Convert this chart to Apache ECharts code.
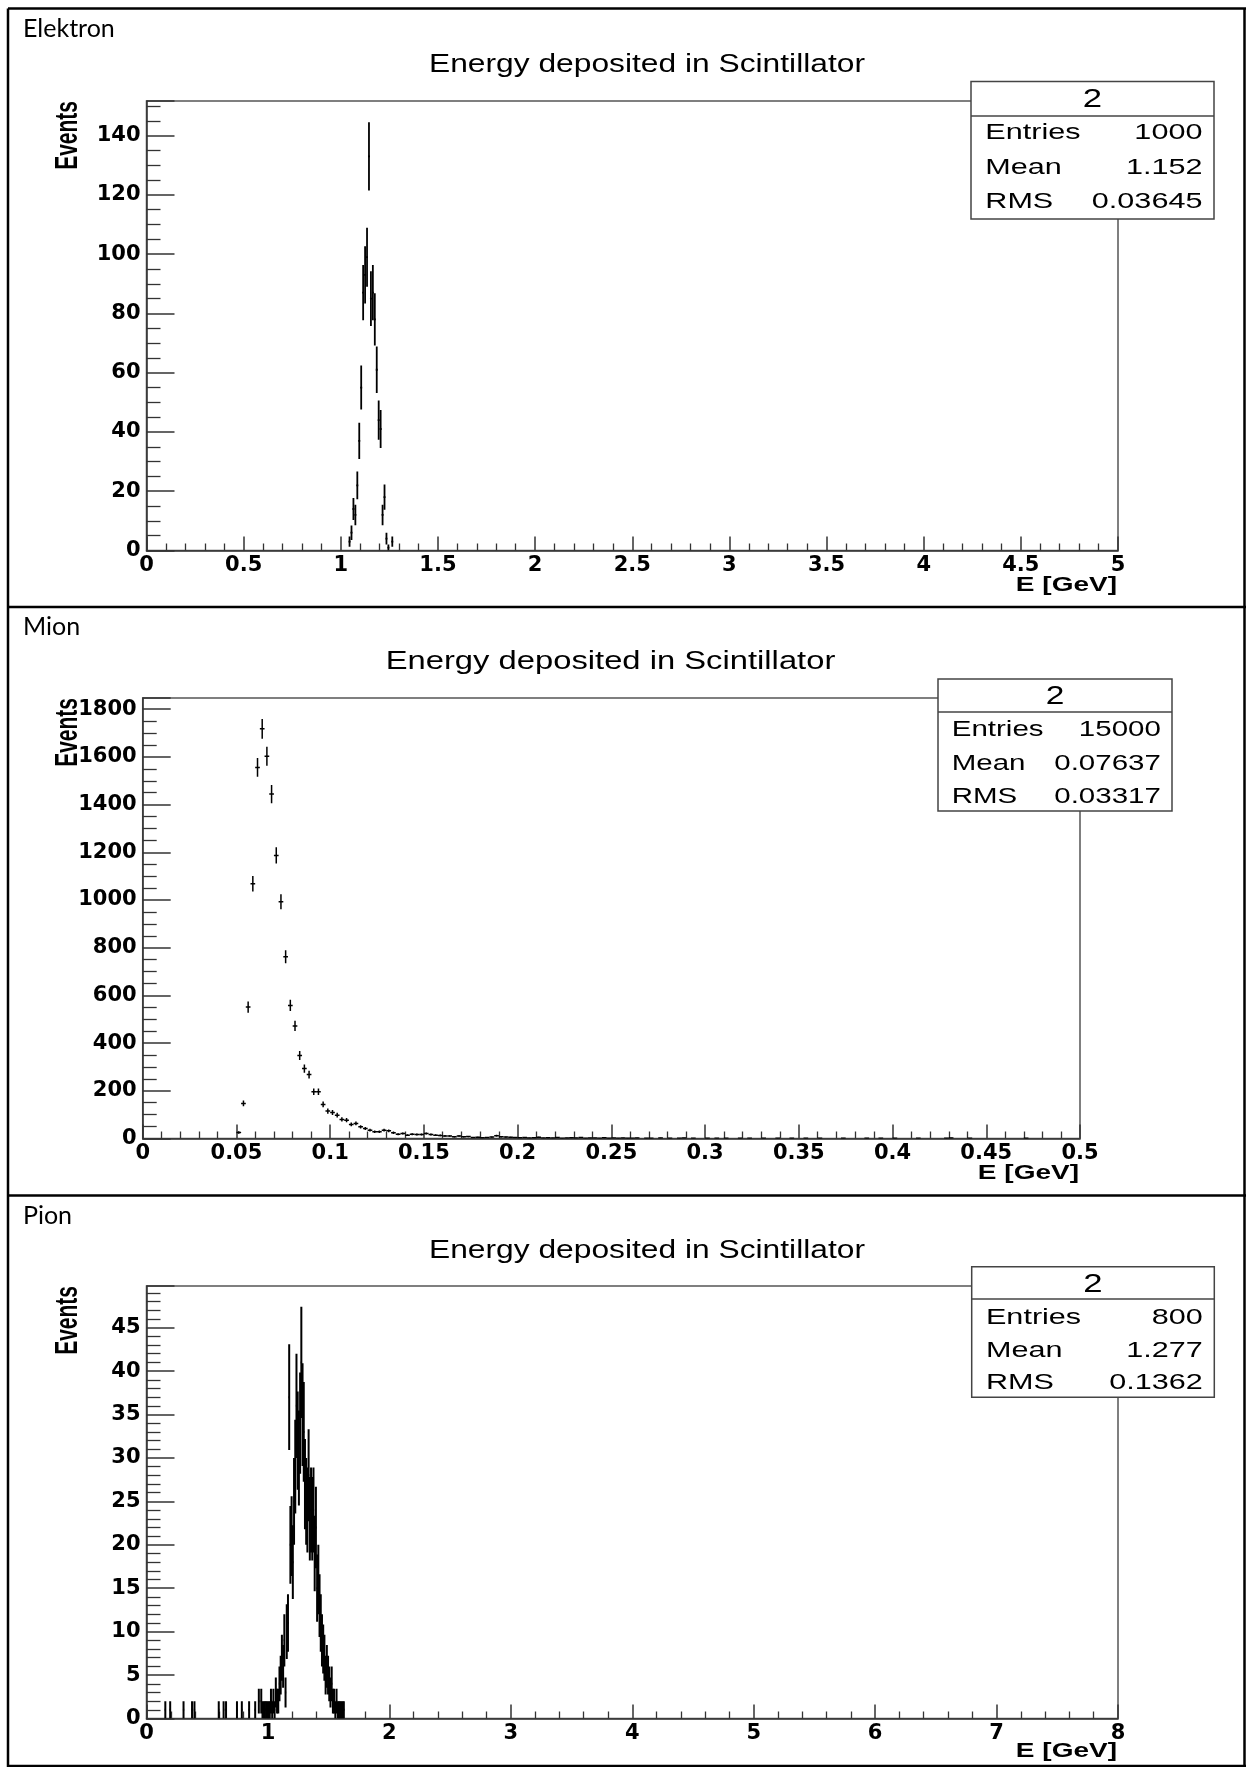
<!DOCTYPE html>
<html><head><meta charset="utf-8">
<script src="https://cdn.jsdelivr.net/npm/echarts@6/dist/echarts.min.js"></script>
<style>html,body{margin:0;padding:0;background:#fff}#c{width:1246px;height:1767px}</style>
</head><body><div id="c"></div>
<script>
// ---------- texts ----------
const panelLabels = ['Elektron', 'Mion', 'Pion'];
const plotTitle = 'Energy deposited in Scintillator';
const xAxisTitle = 'E [GeV]';
const yAxisTitle = 'Events';
const statsName = '2';
const statsRowNames = ['Entries', 'Mean', 'RMS'];
const statsEntries = ['1000', '15000', '800'];
const statsMean = ['1.152', '0.07637', '1.277'];
const statsRMS = ['0.03645', '0.03317', '0.1362'];

// ---------- axes ----------
const xMax = [5, 0.5, 8];
const xInterval = [0.5, 0.05, 1];
const yMax = [151.7, 1847, 49.8];
const yInterval = [20, 200, 5];
const yMinorSplit = [4, 4, 5];

// ---------- data: Elektron ----------
const elektronBinWidth = 0.01;
const elektronE = [1.045, 1.055, 1.065, 1.075, 1.085, 1.095, 1.105, 1.115, 1.125, 1.135, 1.145,
  1.155, 1.165, 1.175, 1.185, 1.195, 1.205, 1.215, 1.225, 1.235, 1.245, 1.265];
const elektronCounts = [3, 6, 14, 12, 22, 37, 55, 87, 93, 99, 133,
  85, 87, 78, 61, 44, 41, 12, 18, 4, 1, 3];

// ---------- data: Mion ----------
const mionBinWidth = 0.0025;
const mionE = [0.05125, 0.05375, 0.05625, 0.05875, 0.06125, 0.06375, 0.06625, 0.06875, 0.07125, 0.07375,
  0.07625, 0.07875, 0.08125, 0.08375, 0.08625, 0.08875, 0.09125, 0.09375, 0.09625, 0.09875,
  0.10125, 0.10375, 0.10625, 0.10875, 0.11125, 0.11375, 0.11625, 0.11875, 0.12125, 0.12375,
  0.12625, 0.12875, 0.13125, 0.13375, 0.13625, 0.13875, 0.14125, 0.14375, 0.14625, 0.14875,
  0.15125, 0.15375, 0.15625, 0.15875, 0.16125, 0.16375, 0.16625, 0.16875, 0.17125, 0.17375,
  0.17625, 0.17875, 0.18125, 0.18375, 0.18625, 0.18875, 0.19125, 0.19375, 0.19625, 0.19875,
  0.20125, 0.20375, 0.20625, 0.20875, 0.21125, 0.21375, 0.21625, 0.21875, 0.22125, 0.22375,
  0.22625, 0.22875, 0.23125, 0.23375, 0.23625, 0.23875, 0.24125, 0.24375, 0.24625, 0.24875,
  0.25125, 0.25375, 0.25625, 0.25875, 0.26125, 0.26375,
  0.26875, 0.27125, 0.27625, 0.28125, 0.28625, 0.28875, 0.29375,
  0.30125, 0.30625, 0.31125, 0.31875, 0.32375, 0.33125, 0.33875, 0.34625, 0.35375, 0.36125,
  0.37375, 0.38625, 0.39375, 0.40125, 0.41375, 0.42875, 0.43125, 0.44125, 0.47125];
const mionCounts = [25, 147, 551, 1068, 1556, 1718, 1603, 1444, 1187, 993,
  762, 558, 472, 348, 293, 268, 196, 196, 143, 115,
  109, 98, 80, 77, 59, 63, 49, 42, 35, 28,
  28, 35, 32, 24, 18, 21, 14, 18, 17, 17,
  21, 17, 14, 13, 11, 10, 7, 10, 7, 8,
  4, 5, 3, 4, 6, 12, 7, 6, 5, 4,
  3, 4, 2, 3, 5, 2, 3, 2, 4, 1,
  2, 3, 2, 4, 1, 2, 2, 1, 3, 1,
  2, 1, 2, 1, 1, 2,
  1, 1, 2, 1, 1, 2, 1,
  1, 1, 1, 1, 1, 1, 1, 1, 1, 1,
  1, 1, 1, 1, 1, 1, 2, 1, 1];

// ---------- data: Pion ----------
const pionBinWidth = 0.01;
const pionE = [0.155, 0.195, 0.305, 0.375, 0.395, 0.595, 0.635, 0.655, 0.745, 0.785,
  0.845, 0.895, 0.925, 0.945, 0.955, 0.965, 0.975, 0.985, 0.995,
  1.005, 1.015, 1.025, 1.035, 1.045, 1.055, 1.065, 1.075, 1.085, 1.095,
  1.105, 1.115, 1.125, 1.135, 1.145, 1.155, 1.165, 1.175, 1.185, 1.195,
  1.205, 1.215, 1.225, 1.235, 1.245, 1.255, 1.265, 1.275, 1.285, 1.295,
  1.305, 1.315, 1.325, 1.335, 1.345, 1.355, 1.365, 1.375, 1.385, 1.395,
  1.405, 1.415, 1.425, 1.435, 1.445, 1.455, 1.465, 1.475, 1.485, 1.495,
  1.505, 1.515, 1.525, 1.535, 1.545, 1.555, 1.565, 1.575, 1.585, 1.595,
  1.605, 1.615, 1.625];
const pionCounts = [1, 1, 1, 1, 1, 1, 1, 1, 1, 1,
  1, 1, 2, 2, 1, 1, 1, 1, 1,
  1, 1, 2, 1, 2, 1, 3, 2, 2, 4,
  5, 7, 6, 9, 3, 10, 11, 37, 20, 21,
  18, 25, 29, 36, 32, 30, 34, 41, 35, 33,
  27, 25, 24, 28, 23, 24, 23, 24, 19, 22,
  15, 16, 13, 11, 9, 8, 7, 5, 6, 5,
  4, 3, 4, 2, 2, 1, 2, 1, 1, 1,
  1, 1, 1];

// ---------- layout (pixels) ----------
const layout = [
  { div: 8.5, left: 146.5, top: 101, width: 971.5, height: 449.5, titleCx: 647, titleCy: 65.5, titleSx: 1.27,
    labelCy: 28.6, box: { x: 971, y: 81.5, w: 243, h: 137.5, sx: 1.39, divY: 34.5, rows: [51.5, 86, 120] }, eDy: 35, lw: 1.8 },
  { div: 607, left: 142.7, top: 698, width: 937.3, height: 440.5, titleCx: 610.5, titleCy: 662, titleSx: 1.31,
    labelCy: 626.5, box: { x: 938, y: 679, w: 234, h: 132, sx: 1.34, divY: 33, rows: [50.5, 85, 117.5] }, eDy: 35, lw: 1.5 },
  { div: 1195.5, left: 146.5, top: 1286, width: 971.5, height: 432.5, titleCx: 647, titleCy: 1251, titleSx: 1.27,
    labelCy: 1216, box: { x: 971.7, y: 1266.7, w: 242.6, h: 130.6, sx: 1.39, divY: 32.3, rows: [51.5, 84.5, 116.5] }, eDy: 33, lw: 2 }
];

const AX = '#333';
const tickFont = { color: '#000', fontFamily: 'DejaVu Sans', fontWeight: 'bold', fontSize: 21 };

function errRender(bw, lw) {
  return function (params, api) {
    const x = api.value(0), y = api.value(1);
    const e = Math.sqrt(y);
    const t = api.coord([x, y + e]);
    const b = api.coord([x, Math.max(0, y - e)]);
    const l = api.coord([x - bw / 2, y]);
    const r = api.coord([x + bw / 2, y]);
    const st = { stroke: '#000', lineWidth: lw, fill: null };
    return { type: 'group', children: [
      { type: 'line', shape: { x1: t[0], y1: t[1], x2: b[0], y2: b[1] }, style: st },
      { type: 'line', shape: { x1: l[0], y1: l[1], x2: r[0], y2: r[1] }, style: st }
    ] };
  };
}

const datasets = [
  [elektronE, elektronCounts, elektronBinWidth],
  [mionE, mionCounts, mionBinWidth],
  [pionE, pionCounts, pionBinWidth]
];

const graphics = [];
// outer table borders
const bstyle = { stroke: '#000', lineWidth: 2.5 };
graphics.push({ type: 'line', z: 300, shape: { x1: 8, y1: 8.5, x2: 1246, y2: 8.5 }, style: bstyle });
graphics.push({ type: 'line', z: 300, shape: { x1: 8, y1: 8.5, x2: 8, y2: 1767 }, style: bstyle });
graphics.push({ type: 'line', z: 300, shape: { x1: 1244.5, y1: 8.5, x2: 1244.5, y2: 1767 }, style: bstyle });
graphics.push({ type: 'line', z: 300, shape: { x1: 8, y1: 607, x2: 1246, y2: 607 }, style: bstyle });
graphics.push({ type: 'line', z: 300, shape: { x1: 8, y1: 1195.5, x2: 1246, y2: 1195.5 }, style: bstyle });
graphics.push({ type: 'line', z: 300, shape: { x1: 8, y1: 1766, x2: 1246, y2: 1766 }, style: bstyle });

layout.forEach((L, i) => {
  graphics.push({ type: 'text', x: 23, y: L.labelCy, z: 200,
    style: { text: panelLabels[i], font: '25px Lato', fill: '#000', textAlign: 'left', textVerticalAlign: 'middle' } });
  graphics.push({ type: 'text', x: L.titleCx, y: L.titleCy, scaleX: L.titleSx, z: 200,
    style: { text: plotTitle, font: '25px "Liberation Sans"', fill: '#000', textAlign: 'center', textVerticalAlign: 'middle' } });
  graphics.push({ type: 'text', x: 68, y: L.top, rotation: Math.PI / 2, scaleY: 1.5, z: 200,
    style: { text: yAxisTitle, font: 'bold 21px "Liberation Sans"', fill: '#000', textAlign: 'right', textVerticalAlign: 'middle' } });
  graphics.push({ type: 'text', x: L.left + L.width - 1, y: L.top + L.height + L.eDy, scaleX: 1.4, z: 200,
    style: { text: xAxisTitle, font: 'bold 20px "Liberation Sans"', fill: '#000', textAlign: 'right', textVerticalAlign: 'middle' } });
  const B = L.box, k = B.w / 243;
  graphics.push({ type: 'rect', z: 150, shape: { x: B.x, y: B.y, width: B.w, height: B.h },
    style: { fill: '#fff', stroke: '#444', lineWidth: 1.5 } });
  graphics.push({ type: 'line', z: 151, shape: { x1: B.x, y1: B.y + B.divY, x2: B.x + B.w, y2: B.y + B.divY },
    style: { stroke: '#444', lineWidth: 1.3 } });
  graphics.push({ type: 'text', x: B.x + B.w / 2, y: B.y + 18.5, scaleX: B.sx, z: 152,
    style: { text: statsName, font: '25px "Liberation Sans"', fill: '#000', textAlign: 'center', textVerticalAlign: 'middle' } });
  const vals = [statsEntries[i], statsMean[i], statsRMS[i]];
  statsRowNames.forEach((nm, r) => {
    graphics.push({ type: 'text', x: B.x + 14.3 * k, y: B.y + B.rows[r], scaleX: B.sx, z: 152,
      style: { text: nm, font: '22px "Liberation Sans"', fill: '#000', textAlign: 'left', textVerticalAlign: 'middle' } });
    graphics.push({ type: 'text', x: B.x + B.w - 11.6 * k, y: B.y + B.rows[r], scaleX: B.sx, z: 152,
      style: { text: vals[r], font: '22px "Liberation Sans"', fill: '#000', textAlign: 'right', textVerticalAlign: 'middle' } });
  });
});

const option = {
  animation: false,
  backgroundColor: '#fff',
  grid: layout.map(L => ({ left: L.left, top: L.top, width: L.width, height: L.height, show: true,
    borderColor: '#555', borderWidth: 1.5, backgroundColor: 'transparent', containLabel: false, outerBoundsMode: 'none' })),
  xAxis: [0, 1, 2].map(i => ({
    type: 'value', gridIndex: i, min: 0, max: xMax[i], interval: xInterval[i],
    axisLine: { show: true, onZero: false, lineStyle: { color: AX, width: 1.5 } },
    axisTick: { show: true, inside: true, length: 14, lineStyle: { color: AX, width: 1.5 } },
    minorTick: { show: true, splitNumber: 5, length: 7, lineStyle: { color: AX, width: 1.3 } },
    splitLine: { show: false }, minorSplitLine: { show: false },
    axisLabel: Object.assign({ show: true, margin: 5 }, tickFont)
  })),
  yAxis: [0, 1, 2].map(i => ({
    type: 'value', gridIndex: i, min: 0, max: yMax[i], interval: yInterval[i],
    axisLine: { show: true, onZero: false, lineStyle: { color: AX, width: 1.5 } },
    axisTick: { show: true, inside: true, length: 28, lineStyle: { color: AX, width: 1.5 } },
    minorTick: { show: true, splitNumber: yMinorSplit[i], length: 14, lineStyle: { color: AX, width: 1.3 } },
    splitLine: { show: false }, minorSplitLine: { show: false },
    axisLabel: Object.assign({ show: true, margin: 6, showMaxLabel: false,
      formatter: v => String(Math.round(v)) }, tickFont)
  })),
  series: datasets.map((d, i) => ({
    type: 'custom', xAxisIndex: i, yAxisIndex: i, clip: true, silent: true, z: 10,
    data: d[0].map((e, k) => [e, d[1][k]]),
    renderItem: errRender(d[2], layout[i].lw)
  })),
  graphic: { elements: graphics }
};

const chart = echarts.init(document.getElementById('c'), null, { renderer: 'canvas' });
chart.setOption(option);
</script>
</body></html>
